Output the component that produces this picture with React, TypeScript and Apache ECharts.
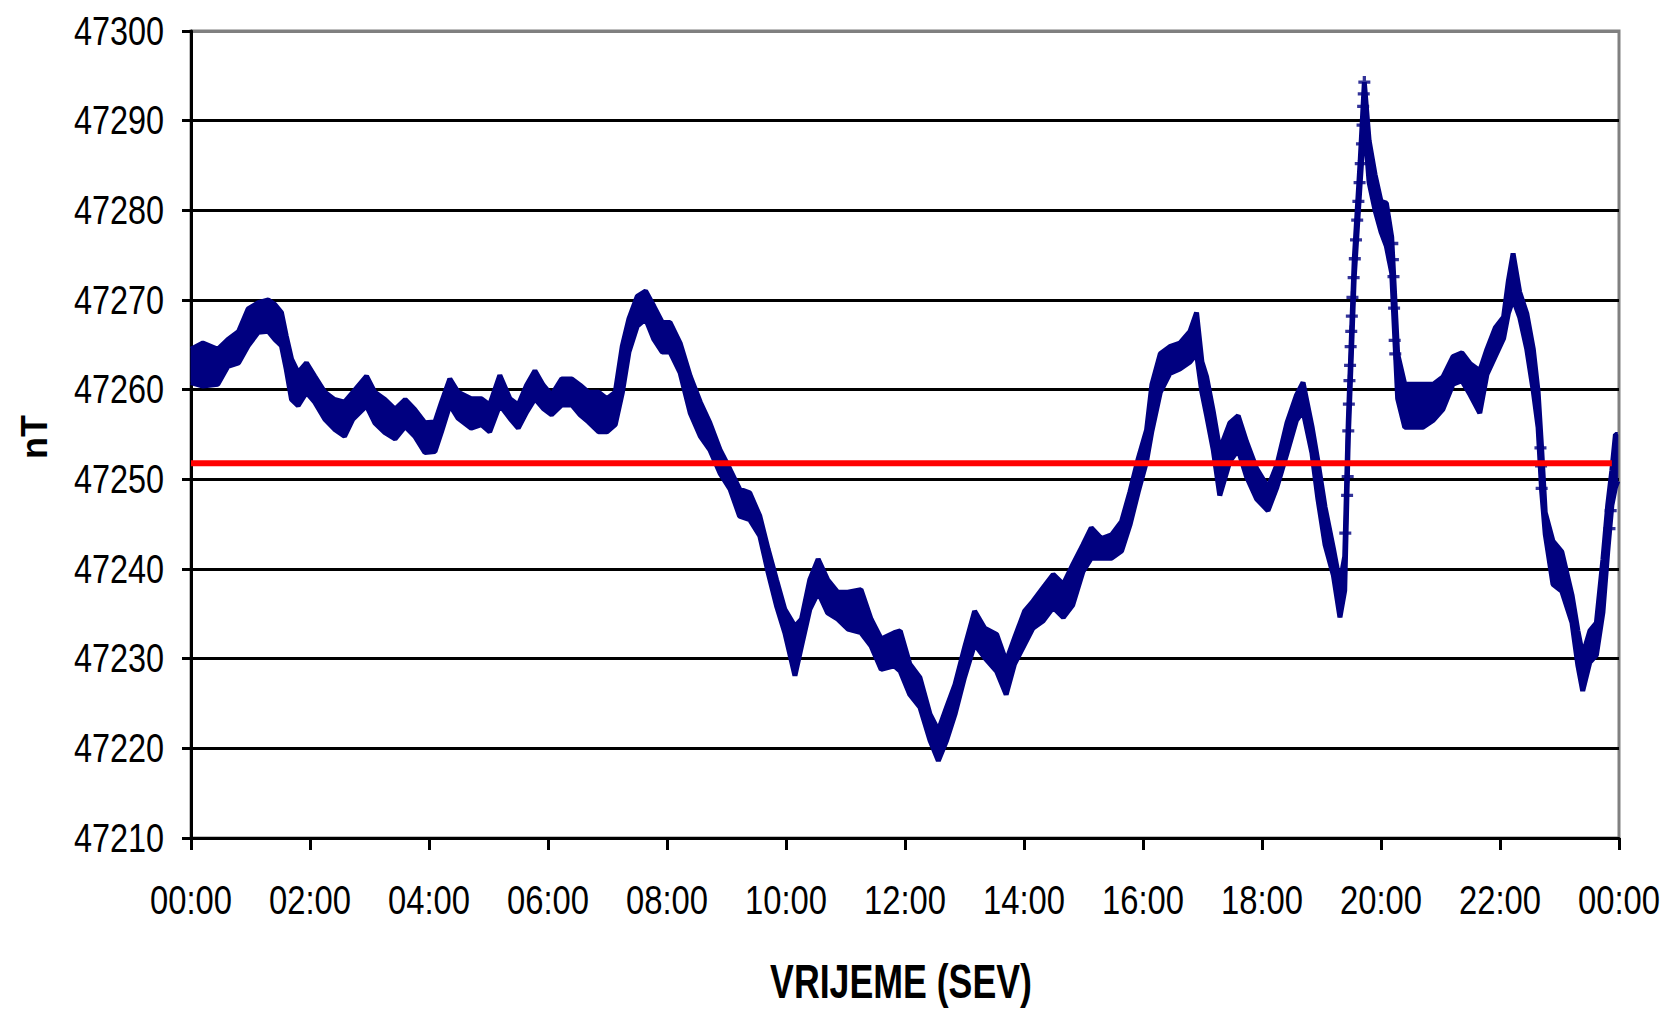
import React, { useEffect, useRef } from "react";
import * as echarts from "echarts";

// time of day in hours
const hours = [
  0.0, 0.2, 0.45, 0.62, 0.8, 0.96, 1.13, 1.3, 1.41, 1.52,
  1.6, 1.69, 1.8, 1.94, 2.08, 2.25, 2.41, 2.58, 2.72, 2.95,
  3.09, 3.26, 3.43, 3.6, 3.76, 3.93, 4.1, 4.21, 4.35, 4.49,
  4.71, 4.88, 5.02, 5.19, 5.36, 5.5, 5.64, 5.78, 5.92, 6.06,
  6.23, 6.4, 6.54, 6.68, 6.85, 6.99, 7.13, 7.25, 7.36, 7.5,
  7.64, 7.78, 7.92, 8.05, 8.22, 8.39, 8.56, 8.72, 8.89, 9.06,
  9.22, 9.39, 9.56, 9.7, 9.84, 9.98, 10.15, 10.26, 10.4, 10.54,
  10.7, 10.87, 11.04, 11.26, 11.43, 11.6, 11.82, 11.92, 12.08, 12.25,
  12.42, 12.56, 12.7, 12.84, 13.0, 13.17, 13.34, 13.54, 13.7, 13.84,
  14.01, 14.15, 14.32, 14.49, 14.66, 14.82, 14.99, 15.13, 15.3, 15.47,
  15.64, 15.78, 15.92, 16.06, 16.15, 16.29, 16.45, 16.62, 16.79, 16.9,
  16.99, 17.07, 17.18, 17.29, 17.46, 17.6, 17.74, 17.91, 18.1, 18.25,
  18.42, 18.58, 18.69, 18.84, 18.94, 19.06, 19.2, 19.31, 19.39, 19.45,
  19.55, 19.65, 19.72, 19.8, 19.9, 20.0, 20.09, 20.18, 20.28, 20.4,
  20.54, 20.7, 20.88, 21.04, 21.21, 21.36, 21.5, 21.66, 21.78, 21.92,
  22.06, 22.14, 22.22, 22.33, 22.45, 22.56, 22.64, 22.7, 22.76, 22.89,
  23.04, 23.21, 23.31, 23.39, 23.51, 23.62, 23.73, 23.81, 23.88, 23.94, 23.98,
];

// lower edge of the dense band of readings (nT)
const bandLow = [
  47260.8, 47260.4, 47260.6, 47262.6, 47263.0, 47264.9, 47266.4, 47266.5, 47265.6, 47264.9,
  47262.3, 47258.9, 47258.2, 47259.7, 47258.6, 47256.7, 47255.6, 47254.8, 47256.7, 47258.2,
  47256.3, 47255.2, 47254.5, 47255.9, 47254.8, 47253.0, 47253.1, 47255.3, 47258.3, 47256.8,
  47255.7, 47256.1, 47255.3, 47258.3, 47256.8, 47255.7, 47257.5, 47259.0, 47257.9, 47257.2,
  47258.3, 47258.3, 47257.2, 47256.4, 47255.3, 47255.3, 47256.1, 47259.7, 47264.2, 47267.1,
  47267.9, 47265.6, 47264.2, 47264.2, 47261.9, 47257.4, 47254.8, 47253.3, 47250.7, 47248.9,
  47245.9, 47245.5, 47243.7, 47239.6, 47235.9, 47232.9, 47228.1, 47231.4, 47235.5, 47237.4,
  47235.1, 47234.4, 47233.3, 47232.9, 47231.4, 47228.8, 47229.2, 47228.6, 47226.0, 47224.6,
  47220.9, 47218.6, 47220.9, 47223.8, 47227.9, 47231.6, 47230.1, 47228.6, 47226.0, 47229.4,
  47231.6, 47233.4, 47234.2, 47235.7, 47234.6, 47236.0, 47239.7, 47241.2, 47241.2, 47241.2,
  47242.0, 47244.9, 47248.6, 47252.0, 47255.4, 47259.7, 47261.8, 47262.3, 47263.1, 47264.0,
  47259.7, 47257.1, 47253.3, 47248.2, 47252.0, 47253.3, 47250.3, 47247.8, 47246.5, 47249.1,
  47252.9, 47256.6, 47257.6, 47252.9, 47247.8, 47242.7, 47239.3, 47234.6, 47237.6, 47254.5,
  47272.5, 47283.0, 47290.0, 47283.1, 47280.0, 47277.6, 47276.0, 47273.0, 47259.0, 47255.8,
  47255.8, 47255.8, 47256.6, 47257.8, 47260.6, 47261.0, 47259.4, 47257.4, 47261.7, 47263.7,
  47265.7, 47268.5, 47270.1, 47268.1, 47264.5, 47259.8, 47255.8, 47248.7, 47243.9, 47238.3,
  47237.5, 47234.0, 47229.2, 47226.4, 47229.6, 47230.4, 47235.2, 47241.9, 47247.1, 47249.1, 47249.8,
];

// upper edge of the dense band of readings (nT)
const bandHigh = [
  47264.5, 47265.2, 47264.5, 47265.6, 47266.5, 47269.0, 47269.7, 47270.0, 47269.5, 47268.6,
  47266.0, 47263.4, 47261.9, 47263.0, 47261.5, 47259.7, 47258.9, 47258.6, 47259.7, 47261.5,
  47259.7, 47258.9, 47257.8, 47258.9, 47257.8, 47256.3, 47256.4, 47258.6, 47261.2, 47259.7,
  47259.0, 47259.0, 47258.3, 47261.6, 47259.0, 47258.3, 47260.5, 47262.1, 47260.5, 47259.4,
  47261.2, 47261.2, 47260.5, 47259.7, 47259.7, 47259.0, 47259.7, 47264.9, 47267.9, 47270.4,
  47271.0, 47269.3, 47267.5, 47267.5, 47265.2, 47261.5, 47258.6, 47256.3, 47253.3, 47251.1,
  47248.9, 47248.5, 47245.9, 47242.2, 47238.8, 47235.5, 47233.6, 47234.4, 47238.8, 47241.1,
  47238.8, 47237.4, 47237.4, 47237.7, 47234.4, 47232.2, 47232.9, 47233.1, 47229.4, 47227.9,
  47223.8, 47222.0, 47224.6, 47227.1, 47231.2, 47235.3, 47233.4, 47232.7, 47229.7, 47232.3,
  47235.3, 47236.4, 47237.9, 47239.4, 47238.3, 47240.5, 47242.7, 47244.6, 47243.4, 47243.8,
  47245.3, 47248.6, 47252.3, 47255.5, 47260.6, 47264.0, 47264.8, 47265.2, 47266.5, 47268.6,
  47263.1, 47261.4, 47257.6, 47253.3, 47256.3, 47257.1, 47254.2, 47251.2, 47249.1, 47251.6,
  47256.3, 47259.4, 47260.8, 47255.9, 47252.0, 47246.9, 47242.3, 47238.4, 47241.4, 47256.5,
  47274.5, 47285.5, 47294.3, 47287.8, 47284.0, 47281.0, 47280.8, 47277.0, 47264.0, 47260.6,
  47260.6, 47260.6, 47260.6, 47261.4, 47263.7, 47264.1, 47262.9, 47262.1, 47264.5, 47266.9,
  47268.1, 47272.1, 47275.2, 47270.9, 47268.5, 47264.5, 47259.8, 47253.4, 47246.3, 47243.1,
  47241.9, 47237.1, 47233.1, 47230.4, 47233.1, 47234.0, 47241.1, 47247.1, 47251.0, 47255.0, 47255.0,
];

// isolated readings during fast changes
const sparseHours = [
  19.4, 19.43, 19.44, 19.45, 19.46, 19.47, 19.48, 19.49, 19.5, 19.51,
  19.52, 19.54, 19.56, 19.58, 19.6, 19.62, 19.64, 19.66, 19.68, 19.69,
  19.7, 19.71, 19.72, 20.19, 20.2, 20.21, 20.22, 20.23, 20.24, 22.68,
  22.69, 22.7, 23.84, 23.86,
];
const sparseValues = [
  47244.0, 47248.2, 47250.3, 47255.4, 47258.4, 47261.0, 47262.7, 47264.8, 47266.5, 47268.2,
  47270.3, 47272.5, 47274.6, 47276.7, 47278.9, 47281.0, 47283.1, 47285.2, 47287.4, 47289.5,
  47291.6, 47293.0, 47294.3, 47276.3, 47274.5, 47272.6, 47269.1, 47265.5, 47264.0, 47253.5,
  47251.5, 47249.0, 47244.5, 47246.5,
];

const meanValue = 47251.8;
const meanStart = 0;
const meanEnd = 23.88;

const xTickHours = [0, 2, 4, 6, 8, 10, 12, 14, 16, 18, 20, 22, 24];
const xTickLabels = [
  "00:00", "02:00", "04:00", "06:00", "08:00", "10:00", "12:00",
  "14:00", "16:00", "18:00", "20:00", "22:00", "00:00",
];
const yTickLabels = [
  "47210", "47220", "47230", "47240", "47250",
  "47260", "47270", "47280", "47290", "47300",
];
const yMin = 47210;
const yMax = 47300;
const yStep = 10;
const xTitle = "VRIJEME (SEV)";
const yTitle = "nT";

export default function App() {
  const ref = useRef<HTMLDivElement>(null);

  useEffect(() => {
    document.body.style.margin = "0";
    document.body.style.overflow = "hidden";
    document.documentElement.style.overflow = "hidden";
    const chart = echarts.init(ref.current!, null, { renderer: "svg" });
    const font = '"Liberation Sans", Arial, Helvetica, sans-serif';
    const navy = "#000080";
    const nSplit = Math.round((yMax - yMin) / yStep) + 1;
    const splitColors = Array.from({ length: nSplit }, (_, i) =>
      i === nSplit - 1 ? "#808080" : "#000000"
    );
    const n = hours.length;

    const option: any = {
      animation: false,
      backgroundColor: "#ffffff",
      grid: {
        left: 191,
        right: 46,
        top: 31,
        bottom: 172,
        show: true,
        borderColor: "#808080",
        borderWidth: 3,
        backgroundColor: "transparent",
      },
      xAxis: {
        type: "value",
        min: 0,
        max: 24,
        interval: 2,
        axisLine: { show: true, onZero: false, lineStyle: { color: "#000", width: 3 } },
        axisTick: { show: true, length: 12, lineStyle: { color: "#000", width: 3 } },
        axisLabel: { show: false },
        splitLine: { show: false },
      },
      yAxis: {
        type: "value",
        min: yMin,
        max: yMax,
        interval: yStep,
        axisLine: { show: true, onZero: false, lineStyle: { color: "#000", width: 3 } },
        axisTick: { show: true, length: 9, lineStyle: { color: "#000", width: 3 } },
        axisLabel: { show: false },
        splitLine: { show: true, lineStyle: { color: splitColors, width: 3 } },
      },
      series: [
        {
          type: "custom",
          silent: true,
          z: 2,
          data: [[0, yMin]],
          renderItem: (_params: any, api: any) => {
            const pts: number[][] = [];
            for (let i = 0; i < n; i++) pts.push(api.coord([hours[i], bandHigh[i]]));
            for (let i = n - 1; i >= 0; i--) pts.push(api.coord([hours[i], bandLow[i]]));
            return {
              type: "polygon",
              shape: { points: pts },
              style: { fill: navy, stroke: navy, lineWidth: 1 },
            };
          },
        },
        {
          type: "line",
          silent: true,
          z: 3,
          symbol: "none",
          data: hours.map((t, i) => [t, bandHigh[i]]),
          lineStyle: { color: navy, width: 5 },
        },
        {
          type: "line",
          silent: true,
          z: 3,
          symbol: "none",
          data: hours.map((t, i) => [t, bandLow[i]]),
          lineStyle: { color: navy, width: 5 },
        },
        {
          type: "scatter",
          silent: true,
          z: 4,
          symbol: "path://M4,0h3v4h4v3h-4v4h-3v-4h-4v-3h4z",
          symbolSize: 12,
          data: sparseHours.map((t, i) => [t, sparseValues[i]]),
          itemStyle: { color: navy },
        },
        {
          type: "line",
          silent: true,
          z: 5,
          symbol: "none",
          data: [
            [meanStart, meanValue],
            [meanEnd, meanValue],
          ],
          lineStyle: { color: "#ff0000", width: 6 },
        },
      ],
    };

    chart.setOption(option);

    const labelStyle = (text: string, align: string) => ({
      text,
      fill: "#000",
      fontFamily: font,
      fontSize: 40,
      align,
      verticalAlign: "middle",
      textAlign: align,
      textVerticalAlign: "middle",
    });

    const graphics: any[] = [];
    yTickLabels.forEach((lab, i) => {
      const p = chart.convertToPixel({ gridIndex: 0 }, [0, Number(lab)]) as number[];
      graphics.push({
        type: "text",
        id: "yl" + i,
        x: p[0] - 27,
        y: p[1],
        scaleX: 0.81,
        z: 100,
        style: labelStyle(lab, "right"),
      });
    });
    xTickLabels.forEach((lab, i) => {
      const p = chart.convertToPixel({ gridIndex: 0 }, [xTickHours[i], yMin]) as number[];
      graphics.push({
        type: "text",
        id: "xl" + i,
        x: p[0],
        y: p[1] + 62,
        scaleX: 0.82,
        z: 100,
        style: labelStyle(lab, "center"),
      });
    });
    graphics.push({
      type: "text",
      id: "xtitle",
      x: 901,
      y: 982,
      scaleX: 0.85,
      scaleY: 1.15,
      z: 100,
      style: {
        text: xTitle,
        fill: "#000",
        fontFamily: font,
        fontWeight: "bold",
        fontSize: 42,
        align: "center",
        verticalAlign: "middle",
        textAlign: "center",
        textVerticalAlign: "middle",
      },
    });
    graphics.push({
      type: "text",
      id: "ytitle",
      x: 34,
      y: 437,
      rotation: Math.PI / 2,
      z: 100,
      style: {
        text: yTitle,
        fill: "#000",
        fontFamily: font,
        fontWeight: "bold",
        fontSize: 36,
        align: "center",
        verticalAlign: "middle",
        textAlign: "center",
        textVerticalAlign: "middle",
      },
    });
    chart.setOption({ graphic: graphics });

    return () => chart.dispose();
  }, []);

  return (
    <div
      ref={ref}
      style={{ position: "fixed", left: 0, top: 0, width: 1665, height: 1010 }}
    />
  );
}
